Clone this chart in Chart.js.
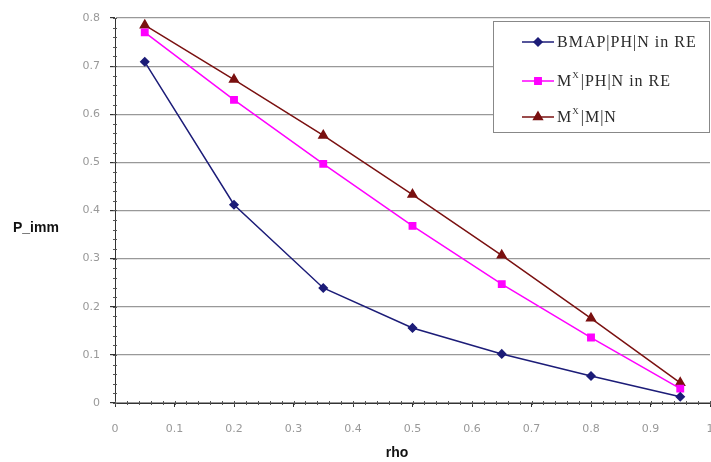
<!DOCTYPE html>
<html><head><meta charset="utf-8">
<script src="https://cdn.jsdelivr.net/npm/chart.js@4/dist/chart.umd.min.js"></script>
<style>html,body{margin:0;padding:0;background:#fff}#wrap{width:711px;height:462px}</style>
</head><body><div id="wrap"><canvas id="c"></canvas></div>
<script>
const rho = [0.05, 0.2, 0.35, 0.5, 0.65, 0.8, 0.95];
const bmapPH = [0.709, 0.412, 0.239, 0.156, 0.102, 0.056, 0.013];
const mxPH = [0.770, 0.630, 0.497, 0.368, 0.247, 0.136, 0.030];
const mxM = [0.785, 0.672, 0.556, 0.433, 0.307, 0.176, 0.042];
// "^X" marks a superscript X
const seriesNames = ['BMAP|PH|N in RE', 'M^X|PH|N in RE', 'M^X|M|N'];
const xTitle = 'rho', yTitle = 'P_imm';

const pts = a => a.map((v,i)=>({x:rho[i], y:v}));
const colors = ['#1c1c78', '#ff00ff', '#7a1010'];
const shapes = ['rectRot', 'rect', 'triangle'];
const sizes = [4, 4.5, 5];
const fmt = v => Math.round(v*10)/10 === 0 ? '0' : String(Math.round(v*10)/10);

function drawRich(ctx, text, x, y) {
  const parts = text.split('^X');
  const base = '16px "Liberation Serif", "Times New Roman", serif';
  const sup = '9px "Liberation Serif", "Times New Roman", serif';
  let cx = x;
  parts.forEach((p, i) => {
    if (i > 0) {
      ctx.font = sup;
      ctx.fillText('X', cx, y - 6);
      cx += ctx.measureText('X').width + 1;
    }
    ctx.font = base;
    ctx.fillText(p, cx, y);
    cx += ctx.measureText(p).width;
  });
}

const extras = {
  id:'extras',
  afterLayout(chart){
    // the plot runs to the right edge of the picture, as in the original
    const xs = chart.scales.x, a = chart.chartArea, R = 710;
    xs.right = R; xs.width = R - xs.left; xs.configure();
    a.right = R; a.width = R - a.left;
  },
  afterDraw(chart){
    const ctx = chart.ctx, xs = chart.scales.x, ys = chart.scales.y;
    ctx.save();
    // minor ticks
    ctx.strokeStyle = '#555'; ctx.lineWidth = 1;
    for (let v = 0; v <= 0.8001; v += 0.02) {
      const y = Math.round(ys.getPixelForValue(v)) + 0.5;
      ctx.beginPath(); ctx.moveTo(xs.left - 2, y); ctx.lineTo(xs.left + 2, y); ctx.stroke();
    }
    for (let v = 0; v <= 1.0001; v += 0.02) {
      const x = Math.round(xs.getPixelForValue(v)) + 0.5;
      ctx.beginPath(); ctx.moveTo(x, ys.bottom - 2); ctx.lineTo(x, ys.bottom + 2); ctx.stroke();
    }
    // axis titles
    ctx.fillStyle = '#111';
    ctx.font = 'bold 14px "Liberation Sans", Arial, sans-serif';
    ctx.textAlign = 'left'; ctx.textBaseline = 'middle';
    ctx.fillText(yTitle, 13, 228);
    ctx.textAlign = 'center';
    ctx.fillText(xTitle, 397, 453);
    // legend
    const bx = 493, by = 21, bw = 216, bh = 111;
    ctx.fillStyle = '#fff'; ctx.fillRect(bx, by, bw, bh);
    ctx.strokeStyle = '#888'; ctx.lineWidth = 1;
    ctx.strokeRect(bx + 0.5, by + 0.5, bw, bh);
    const rows = [42, 81, 117];
    chart.data.datasets.forEach((ds, i) => {
      const y = rows[i];
      ctx.strokeStyle = ds.borderColor; ctx.lineWidth = 1.5;
      ctx.beginPath(); ctx.moveTo(522, y); ctx.lineTo(554, y); ctx.stroke();
      Chart.helpers.drawPoint(ctx, {pointStyle: ds.pointStyle, radius: ds.pointRadius, borderWidth: 1, rotation: 0}, 538, y);
      ctx.fillStyle = ds.borderColor;
      ctx.fill();
      ctx.fillStyle = '#2a2a2a';
      ctx.textAlign = 'left'; ctx.textBaseline = 'middle';
      ctx.letterSpacing = '1px';
      drawRich(ctx, ds.label, 557, y + 1);
      ctx.letterSpacing = '0px';
    });
    ctx.restore();
  }
};

new Chart(document.getElementById('c'), {
  type: 'line',
  data: {
    datasets: [bmapPH, mxPH, mxM].map((d, i) => ({
      label: seriesNames[i],
      data: pts(d),
      borderColor: colors[i],
      backgroundColor: colors[i],
      pointBackgroundColor: colors[i],
      pointBorderColor: colors[i],
      pointStyle: shapes[i],
      pointRadius: sizes[i],
      borderWidth: 1.5,
      tension: 0,
      fill: false
    }))
  },
  options: {
    responsive: true, maintainAspectRatio: false, animation: false,
    layout: {padding: {top: 18, right: 1, left: 0, bottom: 0}},
    plugins: {legend: {display: false}, tooltip: {enabled: false}},
    scales: {
      x: {
        type: 'linear', min: 0, max: 1,
        afterFit(s){ s.height = 59; s.paddingLeft = 0; s.paddingRight = 0; },
        border: {color: '#333', width: 1},
        grid: {drawOnChartArea: false, drawTicks: true, tickLength: 4, color: '#333'},
        ticks: {stepSize: 0.1, color: '#999', padding: 16, font: {size: 11, family: '"DejaVu Sans", sans-serif'},
          callback: fmt}
      },
      y: {
        min: 0, max: 0.8,
        afterFit(s){ s.width = 115; },
        border: {color: '#333', width: 1},
        grid: {color: '#999', lineWidth: 1.2, drawTicks: true, tickLength: 5, tickColor: '#333'},
        ticks: {stepSize: 0.1, color: '#999', padding: 10, font: {size: 11, family: '"DejaVu Sans", sans-serif'},
          callback: fmt}
      }
    }
  },
  plugins: [extras]
});
</script></body></html>
